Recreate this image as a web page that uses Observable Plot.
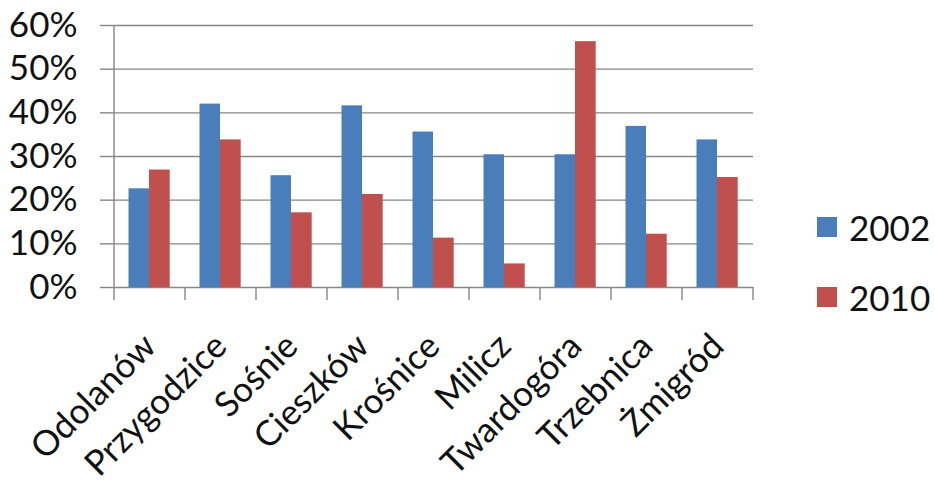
<!DOCTYPE html>
<html>
<head>
<meta charset="utf-8">
<script src="https://cdn.jsdelivr.net/npm/d3@7"></script>
<script src="https://cdn.jsdelivr.net/npm/@observablehq/plot@0.6"></script>
<style>
  html, body { margin: 0; padding: 0; background: #fff; }
  #wrap { position: relative; width: 935px; height: 491px; font-family: Lato, sans-serif; }
  .leg { position: absolute; left: 817px; display: flex; align-items: center; font-size: 35px; color: #111; }
  .sw { width: 20px; height: 20px; margin-right: 12px; }
</style>
</head>
<body>
<div id="wrap"></div>
<script>
const towns = ["Odolanów", "Przygodzice", "Sośnie", "Cieszków", "Krośnice", "Milicz", "Twardogóra", "Trzebnica", "Żmigród"];
const v2002 = [22.6, 42.0, 25.6, 41.6, 35.6, 30.4, 30.4, 36.9, 33.8];
const v2010 = [26.9, 33.8, 17.1, 21.3, 11.3, 5.4, 56.3, 12.2, 25.2];
const years = ["2002", "2010"];
const colors = ["#4A7EBB", "#C0504D"];
const yTicks = [0, 10, 20, 30, 40, 50, 60];

const data = towns.map((t, i) => ({town: t, v2002: v2002[i], v2010: v2010[i]}));
const grid = "#868686";

const boundaries = (index, scales, values, dim) => {
  const g = d3.create("svg:g").attr("stroke", grid).attr("stroke-width", 1.4);
  const x0 = dim.marginLeft, x1 = dim.width - dim.marginRight;
  const yb = dim.height - dim.marginBottom;
  const step = (x1 - x0) / towns.length;
  g.append("line").attr("x1", x0).attr("x2", x0).attr("y1", dim.marginTop).attr("y2", yb);
  for (let i = 0; i <= towns.length; i++) {
    const x = x0 + i * step;
    g.append("line").attr("x1", x).attr("x2", x).attr("y1", yb).attr("y2", yb + 13);
  }
  return g.node();
};

const plot = Plot.plot({
  width: 935,
  height: 491,
  marginLeft: 114,
  marginRight: 182,
  marginTop: 25,
  marginBottom: 204,
  style: {fontFamily: "Lato, sans-serif", fontSize: "35px", color: "#111", background: "#fff"},
  x: {domain: towns, padding: 0},
  y: {domain: [0, 60]},
  marks: [
    Plot.gridY(yTicks, {stroke: grid, strokeOpacity: 1, strokeWidth: 1.4}),
    Plot.barY(data, {x: "town", y: "v2002", fill: colors[0], insetLeft: 14.5, insetRight: 36}),
    Plot.barY(data, {x: "town", y: "v2010", fill: colors[1], insetLeft: 35, insetRight: 15.3}),
    Plot.axisY(yTicks, {tickSize: 14, tickPadding: 23, stroke: grid, tickFormat: d => d + "%", fontSize: 35, label: null, strokeWidth: 1.4}),
    Plot.axisX({tickSize: 0, tickRotate: -45, tickPadding: 53, dx: 0, fontSize: 35, label: null}),
    boundaries
  ]
});

const wrap = document.getElementById("wrap");
wrap.appendChild(plot);
const legTops = [217, 287];
years.forEach((y, i) => {
  const d = document.createElement("div");
  d.className = "leg";
  d.style.top = (legTops[i] - 12) + "px";
  d.style.height = "44px";
  d.innerHTML = `<div class="sw" style="background:${colors[i]}"></div><span>${y}</span>`;
  wrap.appendChild(d);
});
plot.style.position = "absolute";
plot.style.left = "0";
plot.style.top = "0";
</script>
</body>
</html>
